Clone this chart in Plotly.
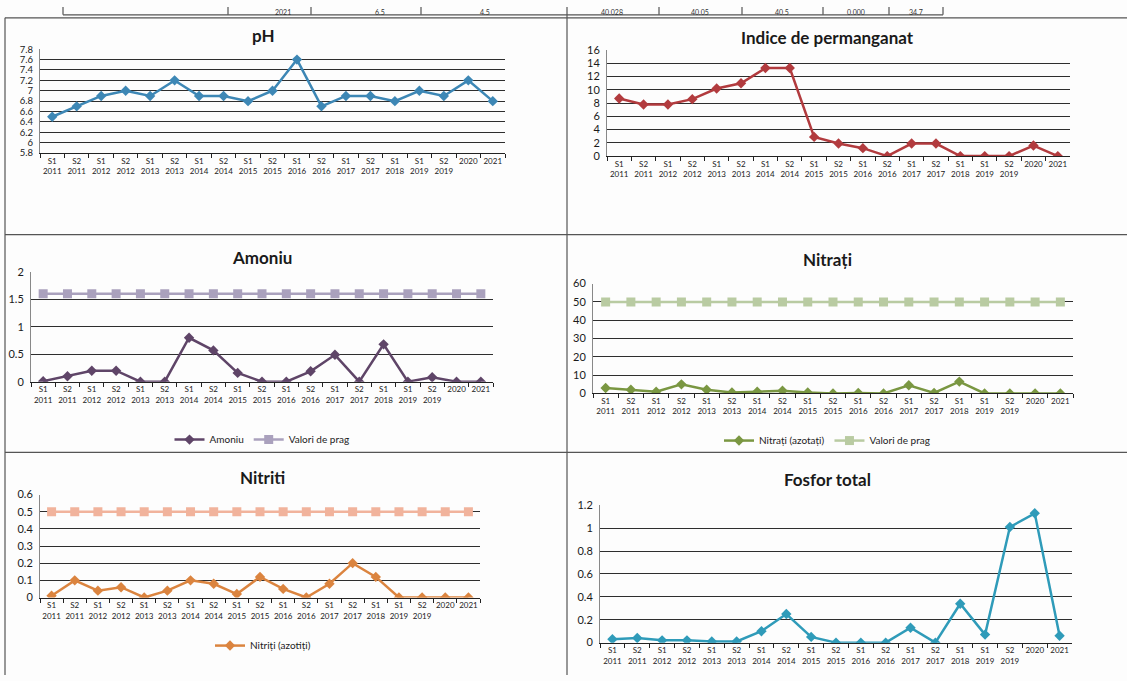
import plotly.graph_objects as go

W, H = 1127, 681

categories = [
    "S1<br>2011", "S2<br>2011", "S1<br>2012", "S2<br>2012", "S1<br>2013",
    "S2<br>2013", "S1<br>2014", "S2<br>2014", "S1<br>2015", "S2<br>2015",
    "S1<br>2016", "S2<br>2016", "S1<br>2017", "S2<br>2017", "S1<br>2018",
    "S1<br>2019", "S2<br>2019", "2020", "2021",
]

ph = [6.5, 6.7, 6.9, 7.0, 6.9, 7.2, 6.9, 6.9, 6.8, 7.0,
      7.6, 6.7, 6.9, 6.9, 6.8, 7.0, 6.9, 7.2, 6.8]
permanganat = [8.7, 7.8, 7.8, 8.6, 10.2, 11.0, 13.3, 13.3, 2.9, 1.9,
               1.2, 0.0, 1.9, 1.9, 0.0, 0.0, 0.0, 1.6, 0.0]
amoniu = [0.01, 0.1, 0.2, 0.2, 0.0, 0.0, 0.8, 0.57, 0.16, 0.0,
          0.0, 0.19, 0.49, 0.0, 0.68, 0.0, 0.08, 0.0, 0.0]
amoniu_prag = [1.6] * 19
nitrati = [3.0, 2.0, 1.0, 5.0, 2.0, 0.5, 1.0, 1.5, 0.5, 0.0,
           0.3, 0.0, 4.5, 0.3, 6.5, 0.0, 0.0, 0.0, 0.0]
nitrati_prag = [50] * 19
nitriti = [0.01, 0.1, 0.04, 0.06, 0.0, 0.04, 0.1, 0.08, 0.02, 0.12,
           0.05, 0.0, 0.08, 0.2, 0.12, 0.0, 0.0, 0.0, 0.0]
nitriti_prag = [0.5] * 19
fosfor = [0.03, 0.04, 0.02, 0.02, 0.01, 0.01, 0.1, 0.25, 0.05, 0.0,
          0.0, 0.0, 0.13, 0.0, 0.34, 0.07, 1.01, 1.13, 0.06]

# strip of the table above the charts
table_text = ["2021", "6.5", "4.5", "40.028", "40.05", "40.5", "0.000", "34.7"]
table_text_x = [283, 380, 485, 612, 700, 782, 856, 916]

FONT = "Lato, Carlito, 'Open Sans', sans-serif"


def px_x(x):
    return x / W


def px_y(y):
    return 1 - y / H


# (title, title centre px, plot box px, y range, dtick, y tick font size)
panels = [
    ("pH", (263, 29), (40, 505, 43, 149), [5.8, 7.8], 0.2, 9.5),
    ("Indice de permanganat", (827, 31), (607, 1070, 44, 152), [0, 16], 2, 11),
    ("Amoniu", (262, 255), (31, 493, 270, 382), [0, 2], 0.5, 11),
    ("Nitrați", (827, 257), (593, 1073, 282, 394), [0, 60], 10, 11),
    ("Nitriti", (262, 480), (40, 480, 497, 602), [0, 0.6], 0.1, 11),
    ("Fosfor total", (827, 482), (600, 1072, 508, 648), [0, 1.2], 0.2, 11),
]

fig = go.Figure()


def add_line(i, values, name, color, symbol, legend=None, rank=1, width=2.5, size=8):
    fig.add_trace(go.Scatter(
        x=categories, y=values, name=name, mode="lines+markers",
        line=dict(color=color, width=width),
        marker=dict(symbol=symbol, size=size, color=color),
        xaxis="x" if i == 1 else f"x{i}", yaxis="y" if i == 1 else f"y{i}",
        legend=legend or "legend", showlegend=legend is not None, legendrank=rank,
    ))


add_line(1, ph, "pH", "#3d87b5", "diamond")
add_line(2, permanganat, "Indice de permanganat", "#b23b3e", "diamond")
add_line(3, amoniu_prag, "Valori de prag", "#aaa1bd", "square", legend="legend", rank=2, size=9)
add_line(3, amoniu, "Amoniu", "#5f4568", "diamond", legend="legend", rank=1)
add_line(4, nitrati_prag, "Valori de prag", "#b9cba2", "square", legend="legend2", rank=2, size=9)
add_line(4, nitrati, "Nitrați (azotați)", "#7a9742", "diamond", legend="legend2", rank=1)
add_line(5, nitriti_prag, "Valori de prag", "#f1b39c", "square", size=9)
add_line(5, nitriti, "Nitriți (azotiți)", "#db843f", "diamond", legend="legend3")
add_line(6, fosfor, "Fosfor total", "#2f9bb9", "diamond")

layout = {}
annotations = []
for i, (title, (tx, ty), (x0, x1, y0, y1), yr, dt, fs) in enumerate(panels, start=1):
    sfx = "" if i == 1 else str(i)
    layout[f"xaxis{sfx}"] = dict(
        domain=[px_x(x0), px_x(x1)], anchor=f"y{sfx}", type="category",
        range=[-0.5, len(categories) - 0.5],
        showgrid=False, showline=True, linecolor="#222", linewidth=1,
        ticks="outside", tickson="boundaries", ticklen=4, tickcolor="#222",
        tickfont=dict(size=8, color="#1a1a1a", family=FONT), tickangle=0,
    )
    layout[f"yaxis{sfx}"] = dict(
        domain=[px_y(y1), px_y(y0)], anchor=f"x{sfx}", range=yr, dtick=dt,
        showgrid=True, gridcolor="#2e2e2e", gridwidth=1,
        showline=True, linecolor="#888", linewidth=1, zeroline=False,
        ticks="", tickfont=dict(size=fs, color="#1a1a1a", family=FONT),
        ticklabelstandoff=4,
    )
    annotations.append(dict(
        text=f"<b>{title}</b>", x=px_x(tx), y=px_y(ty), xref="paper", yref="paper",
        showarrow=False, font=dict(size=17, color="#1a1a1a", family=FONT),
        xanchor="center", yanchor="middle",
    ))

for t, x in zip(table_text, table_text_x):
    annotations.append(dict(
        text=t, x=px_x(x), y=px_y(0), xref="paper", yref="paper",
        showarrow=False, font=dict(size=7, color="#333", family=FONT),
        xanchor="center", yanchor="top", borderpad=0,
    ))

shapes = []
frame = dict(type="line", xref="paper", yref="paper", line=dict(color="#555", width=1.2))
for x0, y0, x1, y1 in [
    (5, 11, 1127, 11), (5, 11, 5, 681), (567, 0, 567, 681),
    (5, 232, 1127, 232), (5, 454, 1127, 454), (63, 8, 943, 8),
    (63, 0, 63, 8), (228, 0, 228, 8), (311, 0, 311, 8), (421, 0, 421, 8),
    (659, 0, 659, 8), (742, 0, 742, 8), (823, 0, 823, 8), (889, 0, 889, 8),
    (943, 0, 943, 8),
]:
    shapes.append(dict(frame, x0=px_x(x0), x1=px_x(x1), y0=px_y(y0), y1=px_y(y1)))

legend_common = dict(
    orientation="h", xanchor="center", yanchor="middle", xref="paper", yref="paper",
    font=dict(size=10, color="#222", family=FONT), bgcolor="rgba(0,0,0,0)",
    itemwidth=30, traceorder="normal",
)

fig.update_layout(
    width=W, height=H, margin=dict(l=0, r=0, t=0, b=0),
    paper_bgcolor="#fdfdfd", plot_bgcolor="#fdfdfd",
    font=dict(family=FONT),
    annotations=annotations, shapes=shapes,
    legend=dict(legend_common, x=px_x(262), y=px_y(441)),
    legend2=dict(legend_common, x=px_x(827), y=px_y(442)),
    legend3=dict(legend_common, x=px_x(263), y=px_y(651)),
    **layout,
)

fig.write_html(
    "out.html",
    config={"displayModeBar": False},
    post_script="document.body.style.margin='0';",
)
